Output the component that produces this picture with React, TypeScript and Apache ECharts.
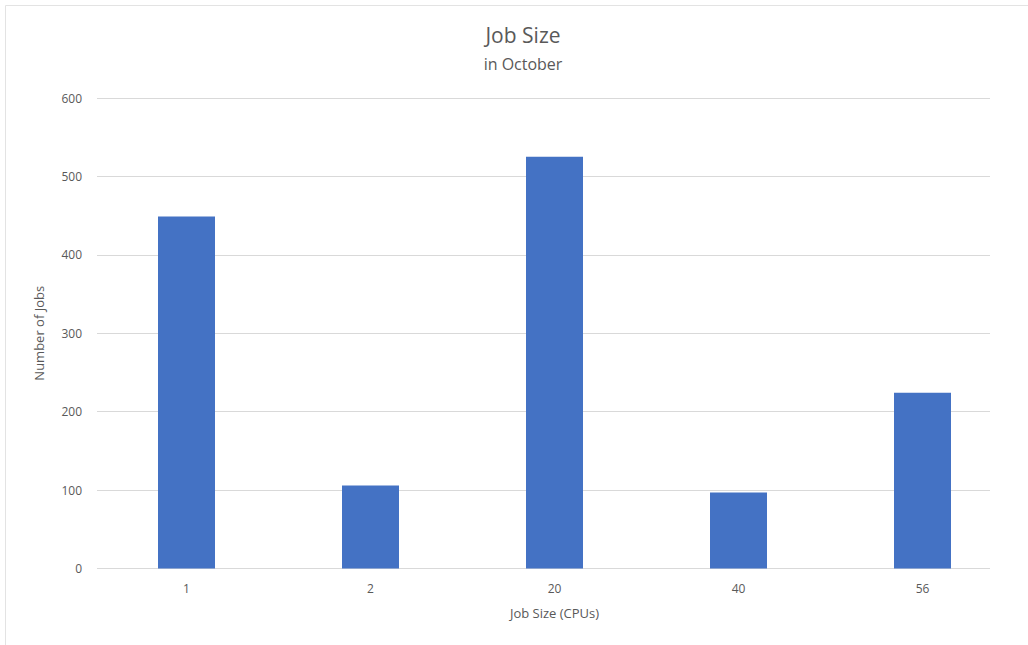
import { useEffect, useRef } from "react";
import * as echarts from "echarts";

// Job counts per requested CPU count, October
const categories = ["1", "2", "20", "40", "56"];
const jobCounts = [449, 106, 525, 97, 224];
const yTicks = { min: 0, max: 600, interval: 100 };

const FONT = "'Open Sans', 'Noto Sans', sans-serif";
const LABEL_COLOR = "#595959";
const GRID_COLOR = "#d9d9d9";
const BAR_COLOR = "#4472C4";

export default function App() {
  const ref = useRef<HTMLDivElement>(null);

  useEffect(() => {
    if (!ref.current) return;
    const chart = echarts.init(ref.current, null, { renderer: "svg" });
    const top = 98;
    const height = 470.5;
    chart.setOption({
      animation: false,
      backgroundColor: "#ffffff",
      textStyle: { fontFamily: FONT },
      title: [
        {
          text: "Job Size",
          left: 518,
          top: 19,
          textAlign: "center",
          textStyle: { fontFamily: FONT, fontSize: 21, fontWeight: "normal", color: "#595959" },
        },
        {
          text: "in October",
          left: 518,
          top: 51,
          textAlign: "center",
          textStyle: { fontFamily: FONT, fontSize: 16, fontWeight: "normal", color: "#595959" },
        },
      ],
      graphic: [
        {
          type: "rect",
          shape: { x: 5.5, y: 5.5, width: 1040, height: 660 },
          style: { fill: "none", stroke: "#e3e3e3", lineWidth: 1 },
          silent: true,
        },
      ],
      grid: [
        // value gridlines and y labels
        { left: 97, width: 893, top, height },
        // bars and category labels
        { left: 94.5, width: 920, top, height },
      ],
      xAxis: [
        { gridIndex: 0, type: "value", show: false, min: 0, max: 1 },
        {
          gridIndex: 1,
          type: "category",
          data: categories,
          axisLine: { show: false },
          axisTick: { show: false },
          axisLabel: { color: LABEL_COLOR, fontSize: 12, margin: 14, fontFamily: FONT },
          name: "Job Size (CPUs)",
          nameLocation: "middle",
          nameGap: 38,
          nameTextStyle: { color: LABEL_COLOR, fontSize: 13, fontFamily: FONT },
        },
      ],
      yAxis: [
        {
          gridIndex: 0,
          type: "value",
          min: yTicks.min,
          max: yTicks.max,
          interval: yTicks.interval,
          axisLine: { show: false },
          axisTick: { show: false },
          axisLabel: { color: LABEL_COLOR, fontSize: 12, margin: 15, fontFamily: FONT },
          splitLine: { show: true, lineStyle: { color: GRID_COLOR, width: 1 } },
          name: "Number of Jobs",
          nameLocation: "middle",
          nameGap: 52,
          nameRotate: 90,
          nameTextStyle: { color: LABEL_COLOR, fontSize: 13, fontFamily: FONT },
        },
        {
          gridIndex: 1,
          type: "value",
          min: yTicks.min,
          max: yTicks.max,
          interval: yTicks.interval,
          show: false,
          splitLine: { show: false },
        },
      ],
      series: [
        {
          type: "bar",
          name: "Jobs",
          xAxisIndex: 1,
          yAxisIndex: 1,
          data: jobCounts,
          barWidth: 57,
          itemStyle: { color: BAR_COLOR },
        },
      ],
    });
    return () => chart.dispose();
  }, []);

  return (
    <div
      ref={ref}
      style={{ position: "absolute", left: 0, top: 0, width: 1028, height: 645 }}
    />
  );
}
